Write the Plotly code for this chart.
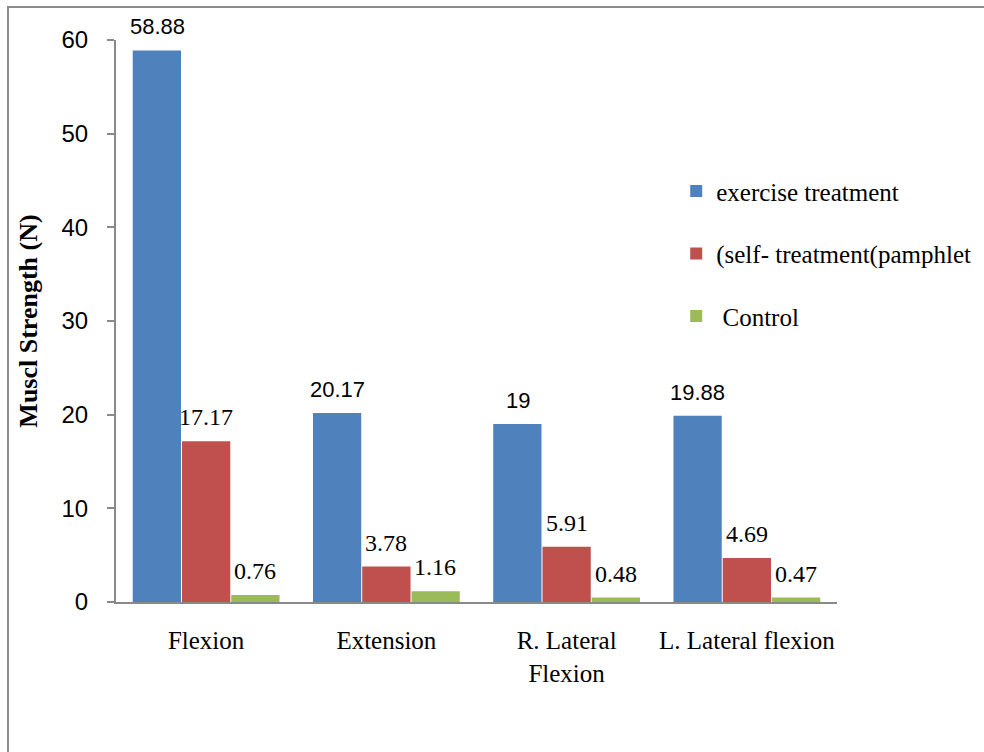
import plotly.graph_objects as go

# Neck muscle strength change by movement and study group
categories = ["Flexion", "Extension", "R. Lateral<br>Flexion", "L. Lateral flexion"]
series_names = ["exercise treatment", "(self- treatment(pamphlet", " Control"]
exercise = [58.88, 20.17, 19, 19.88]
pamphlet = [17.17, 3.78, 5.91, 4.69]
control = [0.76, 1.16, 0.48, 0.47]
y_ticks = [0, 10, 20, 30, 40, 50, 60]

series_values = [exercise, pamphlet, control]
colors = ["#4F81BD", "#C0504D", "#9BBB59"]
sans = "Liberation Sans"
serif = "Liberation Serif"
label_fonts = [sans, serif, serif]
label_sizes = [22, 24, 24]
axis_grey = "#898989"

fig = go.Figure()
for i, (name, vals, col) in enumerate(zip(series_names, series_values, colors)):
    fig.add_trace(go.Bar(
        x=categories, y=vals, name=name,
        marker=dict(color=col, line=dict(width=0)),
        legendgroup=f"g{i}",
    ))

# value labels above each bar
offsets = [-49, 0, 49]
for i, vals in enumerate(series_values):
    for cat, v in zip(categories, vals):
        fig.add_annotation(
            x=cat, y=v, text=f"{v:g}", showarrow=False,
            xshift=offsets[i], yanchor="bottom", yshift=9,
            font=dict(family=label_fonts[i], size=label_sizes[i], color="#000000"),
        )

# outer frame
fig.add_shape(type="rect", xref="paper", yref="paper",
              x0=-0.1498, x1=1.4, y0=-0.5, y1=1.0587,
              line=dict(color="#8c8c8c", width=2), fillcolor="rgba(0,0,0,0)",
              layer="below")

fig.update_layout(
    width=984, height=752,
    margin=dict(l=116, r=147, t=40, b=150, autoexpand=False),
    paper_bgcolor="white", plot_bgcolor="white",
    barmode="group", bargap=0.18, bargroupgap=0.02,
    showlegend=True,
    legend=dict(
        x=0.777, y=0.772, xanchor="left", yanchor="top",
        font=dict(family=serif, size=25, color="#000000"),
        traceorder="grouped", tracegroupgap=27,
        bgcolor="rgba(0,0,0,0)",
    ),
    xaxis=dict(
        showline=True, linecolor=axis_grey, linewidth=2,
        ticks="", showgrid=False, zeroline=False,
        tickfont=dict(family=serif, size=25, color="#000000"),
        ticklabelstandoff=15,
    ),
    yaxis=dict(
        range=[0, 60], tickvals=y_ticks,
        showline=True, linecolor=axis_grey, linewidth=2,
        ticks="outside", ticklen=7, tickcolor=axis_grey, tickwidth=1.5,
        showgrid=False, zeroline=False,
        tickfont=dict(family=sans, size=24, color="#000000"),
        ticklabelstandoff=14,
        title=dict(text="<b>Muscl Strength (N)</b>", standoff=16,
                   font=dict(family=serif, size=26, color="#000000")),
    ),
)

fig.write_html("out.html")
